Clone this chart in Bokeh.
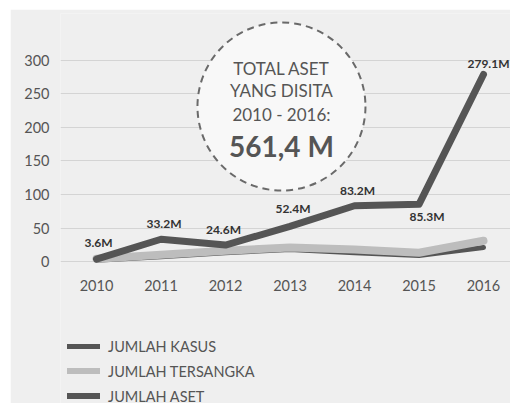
from bokeh.plotting import figure
from bokeh.models import Range1d, FixedTicker, Legend, LegendItem, Spacer
from bokeh.layouts import row, column
from bokeh.core.properties import value
from bokeh.embed import file_html
from bokeh.resources import INLINE

years = [2010, 2011, 2012, 2013, 2014, 2015, 2016]
aset = [3.6, 33.2, 24.6, 52.4, 83.2, 85.3, 279.1]
tersangka = [4, 10, 16, 21, 18, 13, 31]
kasus = [2, 7, 13, 18, 13, 9, 21]
aset_labels = ["3.6M", "33.2M", "24.6M", "52.4M", "83.2M", "85.3M", "279.1M"]
y_ticks = [0, 50, 100, 150, 200, 250, 300]
legend_labels = ["JUMLAH KASUS", "JUMLAH TERSANGKA", "JUMLAH ASET"]
total_lines = ["TOTAL ASET", "YANG DISITA", "2010 - 2016:"]
total_value = "561,4 M"

BG = "#efefef"
DARK = "#555555"
LIGHT = "#bdbdbd"
FONT = "Lato"

p = figure(width=500, height=394, output_backend="svg", toolbar_location=None,
           x_range=Range1d(2009.442, 2016.419), y_range=Range1d(-211.9, 370.1),
           min_border_left=50, min_border_right=0, min_border_top=4,
           min_border_bottom=0)
p.background_fill_color = BG
p.border_fill_color = BG
p.outline_line_color = None
p.xgrid.visible = False
p.ygrid.grid_line_color = "#d4d4d4"
p.ygrid.grid_line_width = 1
p.ygrid.ticker = FixedTicker(ticks=y_ticks)

for ax in (p.xaxis, p.yaxis):
    ax.axis_line_color = None
    ax.major_tick_line_color = None
    ax.minor_tick_line_color = None
    ax.major_label_text_font = FONT
    ax.major_label_text_font_size = "14.5px"
    ax.major_label_text_color = "#555555"
p.xaxis.ticker = FixedTicker(ticks=years)
p.yaxis.ticker = FixedTicker(ticks=y_ticks)
p.xaxis.fixed_location = -10
p.xaxis.major_label_standoff = 6
p.yaxis.major_label_standoff = 5

# dashed circle annotation
cx, cy = 2012.868, 231.3
p.scatter(x=[cx], y=[cy], size=168, marker="circle", fill_color="#f8f8f8",
          line_color="#6a6a6a", line_width=2, line_dash="7 5")
p.text(x=[cx] * 3, y=[cy] * 3, text=total_lines, y_offset=[-38, -16, 8],
       text_align="center", text_baseline="middle", text_font=value(FONT),
       text_font_size="17px", text_color="#555555")
p.text(x=[cx], y=[cy], text=[total_value], y_offset=[39],
       text_align="center", text_baseline="middle", text_font=value(FONT),
       text_font_size="28px", text_font_style="bold", text_color="#555555")

r_kasus = p.line(years, kasus, line_color=DARK, line_width=5, line_cap="round", line_join="round")
r_ters = p.line(years, tersangka, line_color=LIGHT, line_width=8, line_cap="round", line_join="round")
r_aset = p.line(years, aset, line_color=DARK, line_width=7, line_cap="round", line_join="round")

p.text(x=years, y=aset, text=aset_labels,
       x_offset=[2, 3, -2, 3, 3, 8, 5], y_offset=[-17, -16, -16, -18, -15, 12, -11],
       text_align="center", text_baseline="middle", text_font=value(FONT),
       text_font_size="12px", text_font_style="bold", text_color="#333333")

legend = Legend(items=[LegendItem(label=legend_labels[0], renderers=[r_kasus]),
                       LegendItem(label=legend_labels[1], renderers=[r_ters]),
                       LegendItem(label=legend_labels[2], renderers=[r_aset])],
                location=(7, -3), orientation="vertical",
                background_fill_alpha=0, border_line_color=None,
                glyph_width=33, glyph_height=6, label_height=20, spacing=5,
                padding=0, margin=0, label_standoff=8,
                label_text_font=FONT, label_text_font_size="14.5px",
                label_text_color="#555555")
p.add_layout(legend)

layout = row(Spacer(width=10, height=403),
             column(Spacer(width=500, height=9), p, spacing=0), spacing=0)

open("out.html", "w").write(file_html(layout, INLINE))
